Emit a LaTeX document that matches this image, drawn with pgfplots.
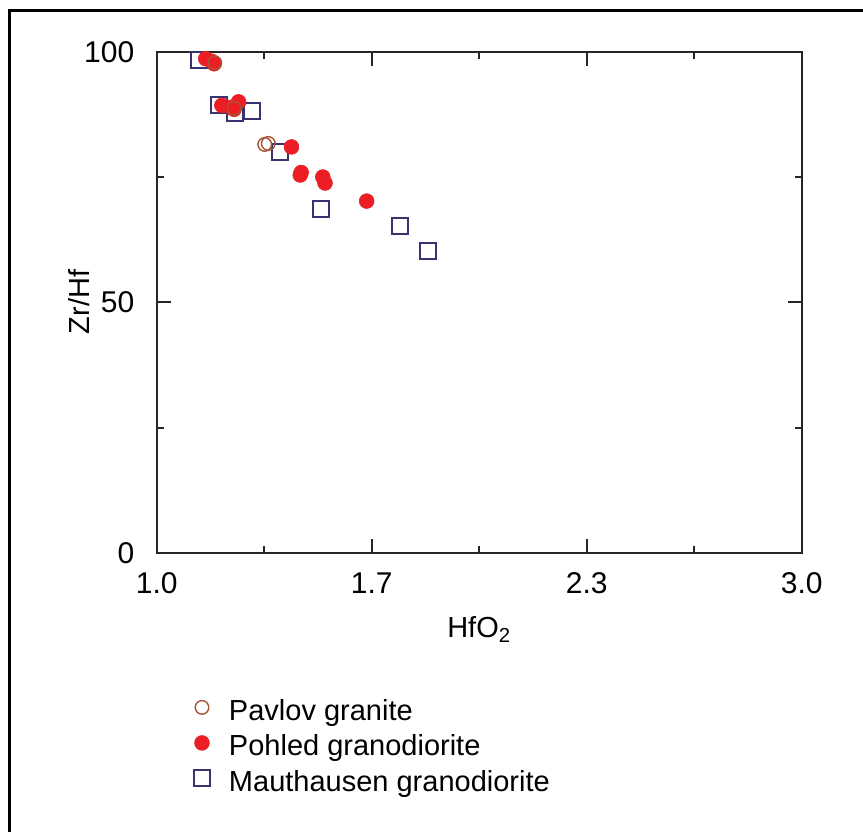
\documentclass[border=0pt]{standalone}
\usepackage{fontspec}
\setmainfont{Liberation Sans}
\usepackage{pgfplots}
\pgfplotsset{compat=1.18}
\definecolor{pavlov}{RGB}{168,84,52}
\definecolor{pohled}{RGB}{234,30,36}
\definecolor{maut}{RGB}{56,50,112}
\begin{document}
\begin{tikzpicture}
\useasboundingbox (0pt,0pt) rectangle (431.5pt,415.5pt);
\draw[line width=1.5pt] (4.75pt,-2pt) -- (4.75pt,410pt) -- (433pt,410pt);
\begin{axis}[
  at={(78.35pt,139pt)}, anchor=south west,
  scale only axis, width=322.5pt, height=250.65pt,
  xmin=1, xmax=3, ymin=0, ymax=100,
  axis line style={line width=0.9pt, black!85},
  xtick={1,1.66667,2.33333,3},
  xticklabels={1.0,1.7,2.3,3.0},
  minor xtick={1.33333,2,2.66667},
  ytick={0,50,100},
  minor ytick={25,75},
  tick align=inside,
  major tick length=7pt, minor tick length=3.5pt,
  tick style={line width=0.9pt, black!85},
  /pgf/number format/assume math mode=true,
  tick label style={font=\fontsize{15}{18}\selectfont},
  xticklabel style={inner sep=0pt, anchor=north, yshift=-9.5pt},
  yticklabel style={inner sep=0pt, anchor=east, xshift=-11pt},
  xlabel={HfO\textsubscript{2}},
  ylabel={Zr/Hf},
  label style={font=\fontsize{14.5}{17}\selectfont},
  xlabel style={at={(axis description cs:0.5,-0.169)}, anchor=base},
  ylabel style={at={(axis description cs:-0.1205,0.5007)}, anchor=center},
  legend image code/.code={\path[draw=none,fill=none] (-5pt,-3.5pt) rectangle (5pt,11pt); \draw[#1] plot coordinates {(0pt,2.65pt)};},
  legend cell align=left,
  reverse legend,
  legend style={at={(axis description cs:0.0547,-0.2747)}, anchor=north west,
    draw=none, fill=none, inner sep=0pt, outer sep=0pt,
    row sep=-0.5pt, column sep=8.5pt,
    font=\fontsize{14.5}{17}\selectfont,
    nodes={inner sep=0pt, outer sep=0pt, text height=11pt, text depth=3.5pt}},
]
\addplot[only marks, mark=square, mark size=4pt, draw=maut, line width=1pt] coordinates {
(1.131,98.3) (1.193,89.3) (1.243,87.8) (1.295,88.2) (1.383,79.9) (1.511,68.7) (1.754,65.2) (1.842,60.2)
};
\addlegendentry{Mauthausen granodiorite}
\addplot[only marks, mark=*, mark size=3.7pt, draw=pohled, fill=pohled, line width=0.3pt] coordinates {
(1.152,98.6) (1.170,98.1) (1.178,97.6) (1.202,89.3) (1.230,88.9) (1.240,88.5) (1.254,90.0) (1.418,81.0) (1.445,75.4) (1.448,75.9) (1.515,75.0) (1.522,73.8) (1.651,70.2)
};
\addlegendentry{Pohled granodiorite}
\addplot[only marks, mark=o, mark size=3.4pt, draw=pavlov, line width=0.7pt] coordinates {
(1.180,97.8) (1.240,88.7) (1.335,81.5) (1.346,81.7)
};
\addlegendentry{Pavlov granite}
\end{axis}
\end{tikzpicture}
\end{document}
